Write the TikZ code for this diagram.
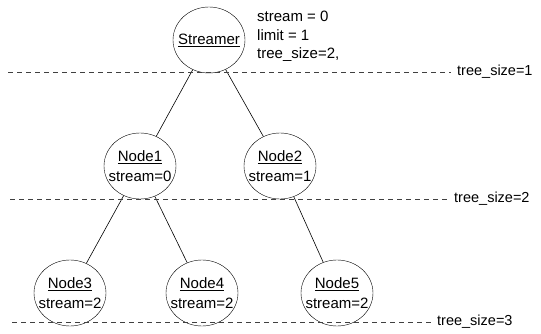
\documentclass[tikz,border=0pt]{standalone}
\usepackage{fontspec}
\setmainfont{Liberation Sans}
\usetikzlibrary{shapes.geometric}
\begin{document}
\begin{tikzpicture}[x=1pt,y=-1pt,
  treenode/.style={draw,ellipse,minimum width=72pt,minimum height=66pt,inner sep=0pt},
  nodetext/.style={inner sep=0pt,align=center,font=\fontsize{15}{20}\selectfont},
  level/.style={draw=black!75,dash pattern=on 5pt off 4pt,line width=0.6pt},
  lbl/.style={anchor=west,inner sep=0pt,font=\fontsize{14.5}{17}\selectfont},
  edge/.style={draw,line width=0.6pt}]
\useasboundingbox (0,0) rectangle (541,334);
\node[treenode] (s) at (209,40) {};
\node[treenode] (n1) at (140,166) {};
\node[treenode] (n2) at (280,166) {};
\node[treenode] (n3) at (70,293) {};
\node[treenode] (n4) at (202,293) {};
\node[treenode] (n5) at (337,293) {};
\node[nodetext] (st) at (s) {\underline{Streamer}};
\node[nodetext] (n1t) at (n1) {\underline{Node1}\\stream=0};
\node[nodetext] (n2t) at (n2) {\underline{Node2}\\stream=1};
\node[nodetext] (n3t) at (n3) {\underline{Node3}\\stream=2};
\node[nodetext] (n4t) at (n4) {\underline{Node4}\\stream=2};
\node[nodetext] (n5t) at (n5) {\underline{Node5}\\stream=2};
\node[anchor=north west,inner sep=0pt,align=left,font=\fontsize{15}{18.5}\selectfont] (info) at (257,11) {stream = 0\\limit = 1\\tree\_size=2,};
\draw[edge] (s) -- (n1);
\draw[edge] (s) -- (n2);
\draw[edge] (n1) -- (n3);
\draw[edge] (n1) -- (n4);
\draw[edge] (n2) -- (n5);
\coordinate (l1a) at (8,72);
\node[lbl] (t1) at (457,72) {tree\_size=1};
\draw[level] (l1a) -- (t1.west -| 451,0);
\coordinate (l2a) at (10,199);
\node[lbl] (t2) at (454,199) {tree\_size=2};
\draw[level] (l2a) -- (t2.west -| 448,0);
\coordinate (l3a) at (12,322);
\node[lbl] (t3) at (437,322) {tree\_size=3};
\draw[level] (l3a) -- (t3.west -| 434,0);
\end{tikzpicture}
\end{document}
